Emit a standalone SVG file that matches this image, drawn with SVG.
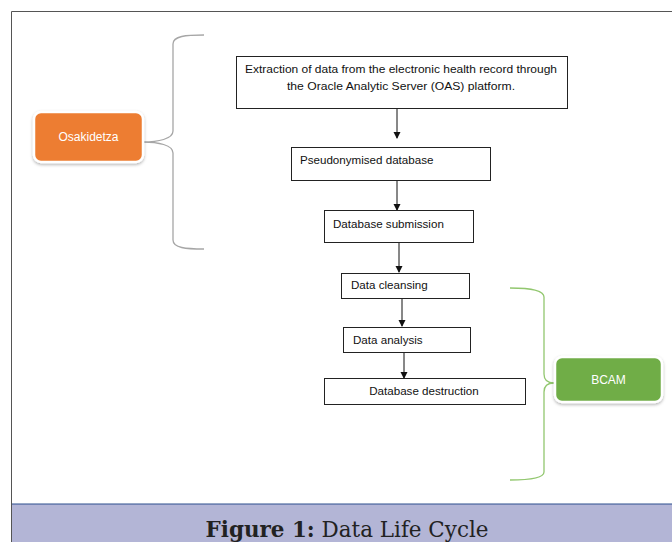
<svg xmlns="http://www.w3.org/2000/svg" width="672" height="542" viewBox="0 0 672 542">
<style>
.box{fill:#fff;stroke:#222;stroke-width:1}
.t{font-family:"Liberation Sans",Arial,sans-serif;font-size:11.6px;fill:#111}
.wt{font-family:"Liberation Sans",Arial,sans-serif;font-size:12px;fill:#fff}
.conn{stroke:#111;stroke-width:1;fill:none}
.brace{fill:none;stroke-width:1.3}
</style>
<defs>
<marker id="ah" markerWidth="7" markerHeight="8" refX="6" refY="4" orient="auto" markerUnits="userSpaceOnUse">
<path d="M0,0.5 L7,4 L0,7.5 Z" fill="#111"/>
</marker>
<filter id="sh" x="-20%" y="-20%" width="140%" height="150%">
<feDropShadow dx="0" dy="1.5" stdDeviation="1.5" flood-color="#000" flood-opacity="0.3"/>
</filter>
</defs>
<rect x="0" y="0" width="672" height="542" fill="#fff"/>
<rect x="11" y="504" width="661" height="38" fill="#b3b5d6"/>
<line x1="11" y1="504" x2="672" y2="504" stroke="#2c4f8e" stroke-width="1.2"/>
<path d="M11.5,542 V11.5 H672" fill="none" stroke="#555" stroke-width="1"/>
<text x="347" y="537" text-anchor="middle" font-family="'DejaVu Serif',serif" font-size="22" fill="#222" textLength="283" lengthAdjust="spacingAndGlyphs"><tspan font-weight="bold">Figure 1:</tspan> Data Life Cycle</text>

<g id="connectors">
<line class="conn" x1="397" y1="108" x2="397" y2="138" marker-end="url(#ah)"/>
<line class="conn" x1="397" y1="180" x2="397" y2="210" marker-end="url(#ah)"/>
<line class="conn" x1="399" y1="242" x2="399" y2="272" marker-end="url(#ah)"/>
<line class="conn" x1="402" y1="298" x2="402" y2="326" marker-end="url(#ah)"/>
<line class="conn" x1="404" y1="349" x2="404" y2="378" marker-end="url(#ah)"/>
<path class="brace" stroke="#a6a6a6" d="M204,35 C186,35 173,36 173,44 V131 C173,139 158,142 143,142 C158,142 173,145 173,153 V240 C173,248 186,249 204,249"/>
<path class="brace" stroke="#92c76f" d="M510,288 C530,288 544,290 544,297 V374 C544,380 548,383 554,383 C548,383 544,386 544,392 V472 C544,478 530,480 510,480"/>
</g>

<g id="extraction">
<rect class="box" x="236.5" y="56.5" width="331" height="52"/>
<text class="t" x="401" y="73" text-anchor="middle" textLength="312" lengthAdjust="spacingAndGlyphs">Extraction of data from the electronic health record through</text>
<text class="t" x="401" y="90" text-anchor="middle" textLength="228" lengthAdjust="spacingAndGlyphs">the Oracle Analytic Server (OAS) platform.</text>
</g>
<g id="pseudonymised">
<rect class="box" x="291.5" y="147.5" width="199" height="33"/>
<text class="t" x="300" y="164">Pseudonymised database</text>
</g>
<g id="submission">
<rect class="box" x="324.5" y="210.5" width="149" height="32"/>
<text class="t" x="333" y="228">Database submission</text>
</g>
<g id="cleansing">
<rect class="box" x="341.5" y="273.5" width="128" height="25"/>
<text class="t" x="351" y="289">Data cleansing</text>
</g>
<g id="analysis">
<rect class="box" x="343.5" y="327.5" width="127" height="25"/>
<text class="t" x="353" y="344">Data analysis</text>
</g>
<g id="destruction">
<rect class="box" x="324.5" y="378.5" width="201" height="26"/>
<text class="t" x="424" y="395" text-anchor="middle">Database destruction</text>
</g>
<g id="osakidetza">
<rect x="34" y="112" width="109" height="50" rx="7" fill="#ed7d31" stroke="#fff" stroke-width="2.5" filter="url(#sh)"/>
<text class="wt" x="88.5" y="141" text-anchor="middle">Osakidetza</text>
</g>
<g id="bcam">
<rect x="555" y="357" width="107" height="45" rx="7" fill="#70ad47" stroke="#fff" stroke-width="2.5" filter="url(#sh)"/>
<text class="wt" x="608.5" y="384" text-anchor="middle">BCAM</text>
</g>
</svg>
